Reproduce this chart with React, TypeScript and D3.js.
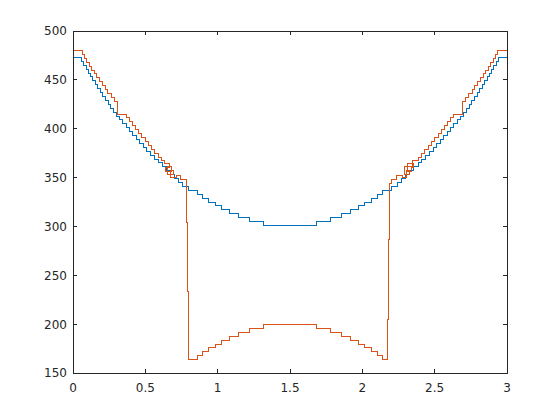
import React from 'react';
import * as d3 from 'd3';

// Blue series: stair start positions and levels
const blueX = [0, 0.062, 0.076, 0.090, 0.105, 0.121, 0.137, 0.153, 0.170, 0.187, 0.205, 0.224, 0.243, 0.262, 0.282, 0.302, 0.323, 0.345, 0.367, 0.390, 0.413, 0.436, 0.460, 0.485, 0.510, 0.536, 0.562, 0.588, 0.616, 0.643, 0.671, 0.700, 0.729, 0.759, 0.797, 0.859, 0.894, 0.935, 0.982, 1.028, 1.080, 1.143, 1.219, 1.315, 1.685, 1.781, 1.857, 1.920, 1.972, 2.018, 2.065, 2.106, 2.141, 2.203, 2.241, 2.271, 2.300, 2.329, 2.357, 2.385, 2.412, 2.438, 2.464, 2.490, 2.515, 2.540, 2.564, 2.587, 2.610, 2.633, 2.655, 2.677, 2.698, 2.718, 2.738, 2.757, 2.776, 2.795, 2.813, 2.830, 2.847, 2.863, 2.879, 2.895, 2.910, 2.924, 2.938];
const blueY = [473, 469, 465, 461, 457, 453, 449, 445, 441, 437, 433, 429, 425, 421, 417, 413, 409, 405, 401, 397, 393, 389, 385, 381, 377, 373, 369, 365, 361, 357, 353, 349, 345, 341, 337, 333, 329, 325, 321, 317, 313, 309, 305, 301, 305, 309, 313, 317, 321, 325, 329, 333, 337, 341, 345, 349, 353, 357, 361, 365, 369, 373, 377, 381, 385, 389, 393, 397, 401, 405, 409, 413, 417, 421, 425, 429, 433, 437, 441, 445, 449, 453, 457, 461, 465, 469, 473];

// Orange series
const orangeX = [0, 0.0643, 0.0795, 0.0953, 0.1116, 0.1285, 0.1460, 0.1640, 0.1826, 0.2018, 0.2215, 0.2418, 0.2627, 0.2841, 0.3062, 0.3684, 0.3892, 0.4127, 0.4320, 0.4535, 0.4756, 0.4977, 0.5205, 0.5433, 0.5668, 0.5903, 0.6145, 0.6359, 0.6670, 0.6379, 0.6809, 0.6532, 0.6947, 0.6739, 0.7120, 0.7431, 0.7832, 0.7901, 0.7970, 0.859, 0.894, 0.935, 0.982, 1.028, 1.080, 1.143, 1.219, 1.315, 1.685, 1.781, 1.857, 1.920, 1.972, 2.018, 2.065, 2.106, 2.141, 2.1725, 2.1795, 2.1864, 2.2002, 2.2375, 2.2811, 2.3053, 2.3260, 2.2915, 2.3398, 2.3122, 2.3571, 2.3467, 2.3889, 2.4096, 2.4331, 2.4567, 2.4795, 2.5023, 2.5244, 2.5465, 2.5679, 2.5873, 2.6108, 2.6315, 2.6937, 2.7159, 2.7373, 2.7582, 2.7785, 2.7982, 2.8173, 2.8359, 2.8540, 2.8714, 2.8884, 2.9047, 2.9204, 2.9356];
const orangeY = [480, 476, 472, 468, 464, 460, 456, 452, 448, 444, 440, 436, 432, 428, 415, 411, 407, 403, 399, 395, 391, 387, 383, 379, 375, 371, 367, 364, 360, 356, 361, 353, 357, 350, 352, 348, 304, 233, 163.6, 167.6, 171.6, 175.6, 179.6, 183.6, 187.6, 191.6, 195.6, 199.6, 195.6, 191.6, 187.6, 183.6, 179.6, 175.6, 171.6, 167.6, 163.6, 205, 287, 344, 348, 352, 350, 357, 353, 361, 356, 364, 360, 367, 371, 375, 379, 383, 387, 391, 395, 399, 403, 407, 411, 415, 428, 432, 436, 440, 444, 448, 452, 456, 460, 464, 468, 472, 476, 480];

const xTicks = [0, 0.5, 1, 1.5, 2, 2.5, 3];
const xTickLabels = ['0', '0.5', '1', '1.5', '2', '2.5', '3'];
const yTicks = [150, 200, 250, 300, 350, 400, 450, 500];
const yTickLabels = ['150', '200', '250', '300', '350', '400', '450', '500'];
const xDomain = [0, 3];
const yDomain = [150, 500];

const W = 560, H = 420;
const L = 73, R = 507, T = 31, B = 373;
const AX = '#262626';
const FONT = 'DejaVu Sans';

export default function App() {
  const x = d3.scaleLinear().domain(xDomain).range([L, R]);
  const y = d3.scaleLinear().domain(yDomain).range([B, T]);
  const line = d3.line<[number, number]>()
    .x(d => x(d[0]))
    .y(d => y(d[1]))
    .curve(d3.curveStepAfter);
  const mk = (xs: number[], ys: number[]) => {
    const pts: [number, number][] = xs.map((v, i) => [v, ys[i]]);
    pts.push([xDomain[1], ys[ys.length - 1]]);
    return line(pts) || '';
  };
  const tl = 4.3;
  return (
    <div style={{ position: 'fixed', left: 0, top: 0, width: W, height: H, background: '#fff' }}>
      <svg width={W} height={H} style={{ display: 'block' }}>
        <rect x={0} y={0} width={W} height={H} fill="#fff" />
        <defs>
          <clipPath id="pa"><rect x={L} y={T} width={R - L} height={B - T} /></clipPath>
        </defs>
        <g clipPath="url(#pa)" fill="none" strokeWidth={1} shapeRendering="crispEdges">
          <path d={mk(blueX, blueY)} stroke="#0072BD" />
          <path d={mk(orangeX, orangeY)} stroke="#D95319" />
        </g>
        <g stroke={AX} strokeWidth={1} shapeRendering="crispEdges" fill="none">
          <rect x={L} y={T} width={R - L} height={B - T} />
          {xTicks.map((t, i) => (
            <g key={'xt' + i}>
              <line x1={x(t)} x2={x(t)} y1={B} y2={B - tl} />
              <line x1={x(t)} x2={x(t)} y1={T} y2={T + tl} />
            </g>
          ))}
          {yTicks.map((t, i) => (
            <g key={'yt' + i}>
              <line x1={L} x2={L + tl} y1={y(t)} y2={y(t)} />
              <line x1={R} x2={R - tl} y1={y(t)} y2={y(t)} />
            </g>
          ))}
        </g>
        <g fill={AX} fontFamily={FONT} fontSize={12}>
          {xTicks.map((t, i) => (
            <text key={'xl' + i} x={x(t)} y={B + 19} textAnchor="middle">{xTickLabels[i]}</text>
          ))}
          {yTicks.map((t, i) => (
            <text key={'yl' + i} x={L - 6} y={y(t) + 4.4} textAnchor="end">{yTickLabels[i]}</text>
          ))}
        </g>
      </svg>
    </div>
  );
}
